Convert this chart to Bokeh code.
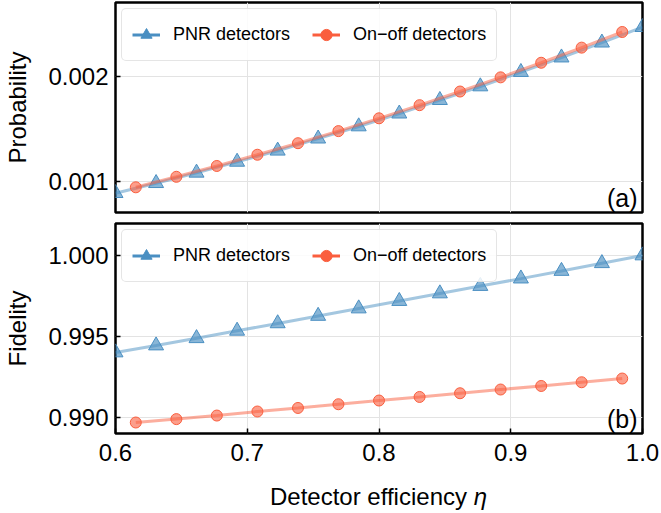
from bokeh.plotting import figure
from bokeh.models import (Range1d, FixedTicker, PrintfTickFormatter, Legend,
                          LegendItem, Label, Div)
from bokeh.layouts import column
from bokeh.embed import file_html
from bokeh.resources import INLINE

# ---- data ----
eta_pnr = [0.6000, 0.6308, 0.6615, 0.6923, 0.7231, 0.7538, 0.7846,
           0.8154, 0.8462, 0.8769, 0.9077, 0.9385, 0.9692, 1.0000]
eta_onoff = [0.6154, 0.6462, 0.6769, 0.7077, 0.7385, 0.7692, 0.8000,
             0.8308, 0.8615, 0.8923, 0.9231, 0.9538, 0.9846]

prob_pnr = [0.000889, 0.000984, 0.001083, 0.001187, 0.001293, 0.001408, 0.001524,
            0.001646, 0.001775, 0.001905, 0.002042, 0.002180, 0.002322, 0.002470]
prob_onoff = [0.000945, 0.001045, 0.001148, 0.001255, 0.001365, 0.001480, 0.001602,
              0.001727, 0.001857, 0.001992, 0.002131, 0.002275, 0.002424]

fid_pnr = [0.99400, 0.99443, 0.99488, 0.99534, 0.99580, 0.99626, 0.99672,
           0.99718, 0.99765, 0.99811, 0.99857, 0.99904, 0.99952, 1.00000]
fid_onoff = [0.98967, 0.98988, 0.99010, 0.99035, 0.99057, 0.99080, 0.99103,
             0.99125, 0.99148, 0.99171, 0.99193, 0.99216, 0.99239]

x_ticks = [0.6, 0.7, 0.8, 0.9, 1.0]
prob_ticks = [0.001, 0.002]
fid_ticks = [0.990, 0.995, 1.000]

series_labels = ["PNR detectors", "On\u2212off detectors"]
panel_tags = ["(a)", "(b)"]
xlabel_text = "Detector efficiency"
xlabel_symbol = "\u03b7"

BLUE = "#4a8fc2"
RED = "#fa5e3e"
FONT = "Liberation Sans"

x_range = Range1d(0.6, 1.0)
prob_range = (0.000705, 0.0027048)
fid_range = (0.98899, 1.00198)


def style(p, yticks, yfmt, ylabel):
    p.outline_line_color = "black"
    p.outline_line_width = 2.5
    p.background_fill_color = "white"
    p.border_fill_color = "white"
    for g in p.grid:
        g.grid_line_color = "#e3e3e3"
        g.grid_line_width = 1
    p.xgrid.ticker = FixedTicker(ticks=x_ticks)
    p.ygrid.ticker = FixedTicker(ticks=yticks)
    ax = p.yaxis[0]
    ax.ticker = FixedTicker(ticks=yticks)
    ax.formatter = PrintfTickFormatter(format=yfmt)
    ax.axis_label = ylabel
    for a in p.axis:
        a.axis_line_color = None
        a.major_tick_in = 5
        a.major_tick_out = 0
        a.minor_tick_in = 0
        a.minor_tick_out = 0
        a.major_tick_line_color = "black"
        a.major_tick_line_width = 1.5
        a.major_label_text_font = FONT
        a.major_label_text_font_size = "24px"
        a.major_label_text_color = "black"
        a.axis_label_text_font = FONT
        a.axis_label_text_font_size = "24px"
        a.axis_label_text_font_style = "normal"
        a.axis_label_text_color = "black"
    ax.major_label_standoff = 7
    ax.axis_label_standoff = 14


def add_series(p, ya, yb, ymin, tag):
    p.line(eta_pnr, ya, line_color=BLUE, line_width=3, line_alpha=0.5)
    p.scatter(eta_pnr, ya, marker="triangle", size=15, fill_color=BLUE,
              fill_alpha=0.65, line_color=BLUE, line_width=1)
    p.line(eta_onoff, yb, line_color=RED, line_width=3, line_alpha=0.5)
    p.scatter(eta_onoff, yb, marker="circle", size=11, fill_color=RED,
              fill_alpha=0.6, line_color=RED, line_width=1)
    # legend-only renderers (full opacity), placed outside the visible range
    off_x = [eta_pnr[0] - 1.0]
    off_y = [ya[0]]
    lb = p.line(off_x + off_x, off_y + off_y, line_color=BLUE, line_width=3)
    sb = p.scatter(off_x, off_y, marker="triangle", size=15, color=BLUE)
    lr = p.line(off_x + off_x, off_y + off_y, line_color=RED, line_width=3)
    sr = p.scatter(off_x, off_y, marker="circle", size=12, color=RED)
    leg = Legend(items=[LegendItem(label=series_labels[0], renderers=[lb, sb]),
                        LegendItem(label=series_labels[1], renderers=[lr, sr])],
                 location="top_left", orientation="horizontal")
    leg.margin = 6
    leg.padding = 10
    leg.spacing = 22
    leg.glyph_width = 28
    leg.glyph_height = 31
    leg.label_height = 31
    leg.label_standoff = 13
    leg.label_text_font = FONT
    leg.label_text_font_size = "18px"
    leg.label_text_color = "black"
    leg.border_line_color = "#cccccc"
    leg.border_line_width = 1
    leg.background_fill_alpha = 0.85
    if "border_radius" in Legend.properties():
        leg.border_radius = 5
    p.add_layout(leg)
    p.add_layout(Label(x=1.0, y=ymin, text=tag, text_align="right",
                       text_baseline="bottom", x_offset=-5, y_offset=1,
                       text_font=FONT, text_font_size="25px",
                       text_color="black"))


p1 = figure(width=661, height=217, x_range=x_range,
            y_range=Range1d(*prob_range),
            output_backend="svg", toolbar_location=None,
            min_border_left=115, min_border_right=19,
            min_border_top=2, min_border_bottom=5)
style(p1, prob_ticks, "%.3f", "Probability")
p1.xaxis.visible = False
add_series(p1, prob_pnr, prob_onoff, prob_range[0], panel_tags[0])

p2 = figure(width=661, height=251, x_range=x_range,
            y_range=Range1d(*fid_range),
            output_backend="svg", toolbar_location=None,
            min_border_left=115, min_border_right=19,
            min_border_top=6, min_border_bottom=35)
style(p2, fid_ticks, "%.3f", "Fidelity")
p2.xaxis[0].ticker = FixedTicker(ticks=x_ticks)
p2.xaxis[0].formatter = PrintfTickFormatter(format="%.1f")
p2.xaxis[0].major_label_standoff = 10
add_series(p2, fid_pnr, fid_onoff, fid_range[0], panel_tags[1])

# x-axis title as real HTML text: upright words with an italic eta
xtitle = Div(
    text=('<div style="font-family: \'Liberation Sans\', Arial, sans-serif; '
          'font-size: 24px; line-height: 28px; color: black; '
          'white-space: nowrap; margin: 0; padding: 10px 0 0 265px;">'
          + xlabel_text + ' <i>' + xlabel_symbol + '</i></div>'),
    width=661, height=45)

layout = column(p1, p2, xtitle, spacing=0)

with open("out.html", "w") as f:
    f.write(file_html(layout, INLINE))
